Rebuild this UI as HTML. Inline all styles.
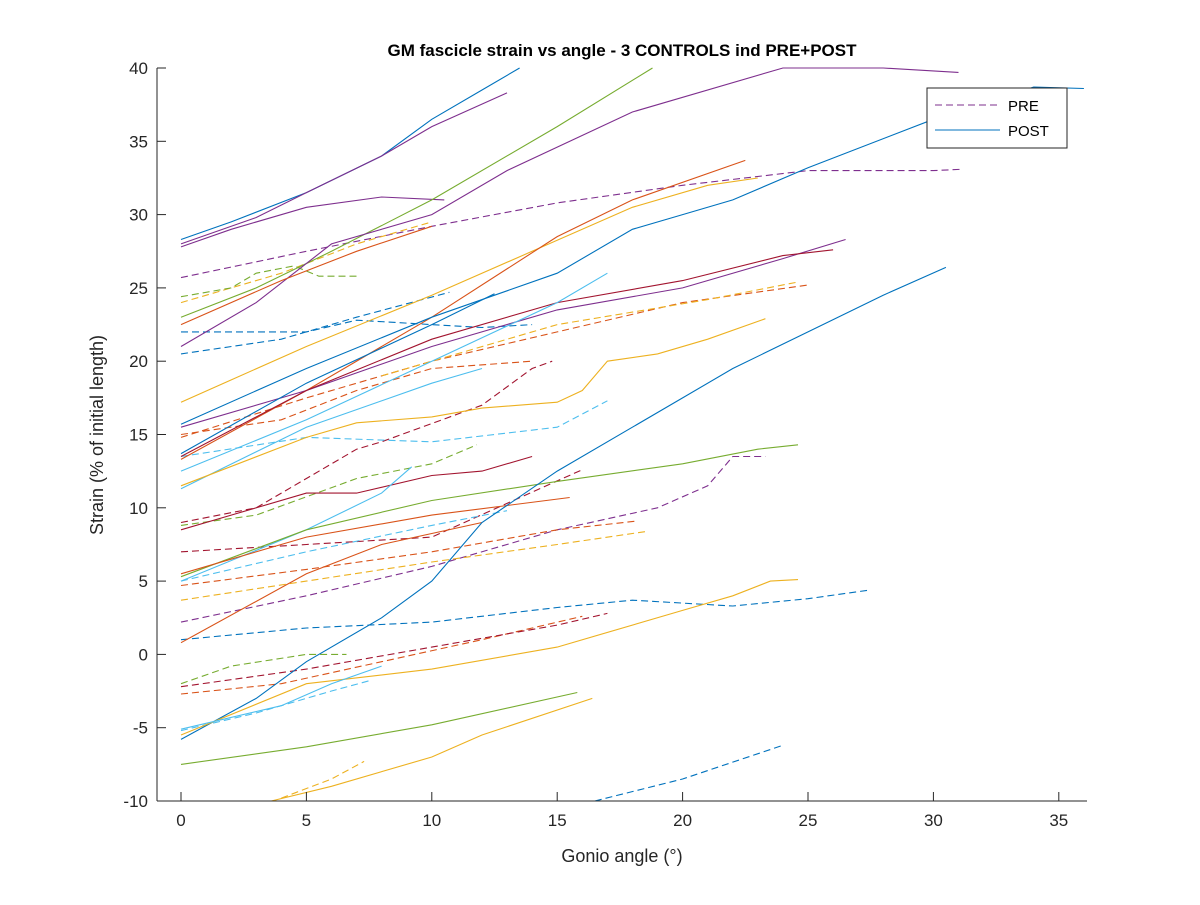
<!DOCTYPE html>
<html><head><meta charset="utf-8"><style>
body{margin:0;background:#fff;font-family:"Liberation Sans",sans-serif}
svg text{font-family:"Liberation Sans",sans-serif}
</style></head><body>
<svg id="chart" width="1200" height="900" xmlns="http://www.w3.org/2000/svg">
<rect width="1200" height="900" fill="#fff"/>
<text x="622" y="56" text-anchor="middle" font-size="17" font-weight="bold">GM fascicle strain vs angle - 3 CONTROLS ind PRE+POST</text>
<g id="series"></g>
<rect x="157" y="68" width="930" height="733" fill="none" stroke="none"/>
<line x1="157" y1="801" x2="1087" y2="801" stroke="#262626"/>
<line x1="157" y1="68" x2="157" y2="801" stroke="#262626"/>
<g id="ticks"></g>
<text x="622" y="862" text-anchor="middle" font-size="18" fill="#262626">Gonio angle (°)</text>
<text transform="translate(103,435) rotate(-90)" text-anchor="middle" font-size="18" fill="#262626">Strain (% of initial length)</text>
<g>
<rect x="927" y="88" width="140" height="60" fill="#fff" stroke="#262626" stroke-width="1"/>
<line x1="935" y1="105" x2="1000" y2="105" stroke="#7E2F8E" stroke-dasharray="7,4"/>
<text x="1008" y="111" font-size="15">PRE</text>
<line x1="935" y1="130" x2="1000" y2="130" stroke="#0072BD"/>
<text x="1008" y="136" font-size="15">POST</text>
</g>
</svg>
<script>
const xTicks=[0,5,10,15,20,25,30,35];
const yTicks=[-10,-5,0,5,10,15,20,25,30,35,40];
const C={b:"#0072BD",o:"#D95319",y:"#EDB120",p:"#7E2F8E",g:"#77AC30",l:"#4DBEEE",r:"#A2142F"};
const postColors=["b","p","p","g","p","o","y","o","b","p","r","b","l","l","y","r","l","g","o","o","b","y","g","y","l"];
const postData=[
[[0,28.3],[2,29.5],[5,31.5],[8,34],[10,36.5],[12,38.5],[13.5,40]],
[[0,28],[3,29.8],[5,31.5],[8,34],[10,36],[13,38.3]],
[[0,27.8],[2,29],[5,30.5],[8,31.2],[10.5,31]],
[[0,23],[3,25],[6,27.5],[10,31],[15,36],[18.8,40]],
[[0,21],[3,24],[6,28],[10,30],[13,33],[18,37],[24,40],[28,40],[31,39.7]],
[[0,22.5],[4,25.5],[7,27.5],[10,29.2]],
[[0,17.2],[5,21],[10,24.5],[14,27.5],[18,30.5],[21,32],[23,32.5]],
[[0,13.3],[5,18],[10,23],[15,28.5],[18,31],[22.5,33.7]],
[[0,15.7],[5,19.5],[10,23],[15,26],[18,29],[20,30],[22,31],[25,33.2],[30,36.5],[34,38.7],[36,38.6]],
[[0,15.5],[5,18],[10,21],[15,23.5],[20,25],[24,27],[26.5,28.3]],
[[0,13.5],[5,18],[10,21.5],[15,24],[20,25.5],[24,27.2],[26,27.6]],
[[0,13.7],[5,18.5],[10,22.5],[12.5,24.6]],
[[0,12.5],[5,16],[10,20],[15,24],[17,26]],
[[0,11.3],[5,15.5],[10,18.5],[12,19.5]],
[[0,11.5],[5,14.8],[7,15.8],[10,16.2],[12,16.8],[15,17.2],[16,18],[17,20],[19,20.5],[21,21.5],[23.3,22.9]],
[[0,8.5],[2,9.5],[5,11],[7,11],[10,12.2],[12,12.5],[14,13.5]],
[[0,5],[5,8.5],[8,11],[9.2,12.8]],
[[0,5.3],[5,8.5],[10,10.5],[15,11.8],[20,13],[23,14],[24.6,14.3]],
[[0,5.5],[5,8],[10,9.5],[15.5,10.7]],
[[0,0.8],[5,5.5],[8,7.5],[12,9]],
[[0,-5.8],[3,-3],[5,-0.5],[8,2.5],[10,5],[12,9],[15,12.5],[18,15.5],[20,17.5],[22,19.5],[25,22],[28,24.5],[30.5,26.4]],
[[0,-5.5],[5,-2],[10,-1],[15,0.5],[20,3],[22,4],[23.5,5],[24.6,5.1]],
[[0,-7.5],[5,-6.3],[10,-4.8],[15.8,-2.6]],
[[3.6,-10],[6,-9],[10,-7],[12,-5.5],[16.4,-3]],
[[0,-5.1],[4,-3.5],[6,-2],[8,-0.8]]
];
const preColors=["p","y","g","b","b","o","y","o","r","l","g","r","p","l","o","y","b","g","o","r","l","y","b"];
const preData=[
[[0,25.7],[5,27.5],[10,29.2],[15,30.8],[20,32],[25,33],[30,33],[31.2,33.1]],
[[0,24],[4,26],[7,28],[10,29.5]],
[[0,24.4],[2,25],[3,26],[4.5,26.5],[5.5,25.8],[7,25.8]],
[[0,22],[5,22],[7,22.8],[10,22.5],[12,22.3],[14,22.5]],
[[0,20.5],[4,21.5],[7,23],[10.7,24.7]],
[[0,14.8],[5,17.5],[10,20],[15,22],[20,24],[25,25.2]],
[[8,19],[15,22.5],[21,24.2],[24.6,25.4]],
[[0,15],[4,16],[7,18],[10,19.5],[14,20]],
[[0,9],[3,10],[5,12],[7,14],[8,14.5],[12,17],[14,19.5],[14.8,20]],
[[0,13.5],[5,14.8],[10,14.5],[15,15.5],[17,17.3]],
[[0,8.8],[3,9.5],[7,12],[10,13],[11.8,14.3]],
[[0,7],[5,7.5],[10,8],[16,12.6]],
[[0,2.2],[5,4],[10,6],[15,8.5],[19,10],[21,11.5],[22,13.5],[23.3,13.5]],
[[0,5],[5,7],[10,8.8],[13,9.8]],
[[0,4.7],[5,5.8],[10,7],[15,8.5],[18.2,9.1]],
[[0,3.7],[5,5],[10,6.3],[15,7.5],[18.6,8.4]],
[[0,1],[5,1.8],[10,2.2],[15,3.2],[18,3.7],[22,3.3],[25,3.8],[27.5,4.4]],
[[0,-2],[2,-0.8],[5,0],[6.6,0]],
[[0,-2.7],[4,-2],[8,-0.5],[12,1],[16,2.6]],
[[0,-2.2],[5,-1],[10,0.5],[15,2],[17,2.8]],
[[0,-5.2],[3,-4],[6,-2.5],[7.5,-1.8]],
[[4,-9.8],[6,-8.5],[7.3,-7.3]],
[[16.5,-10],[20,-8.5],[24,-6.2]]
];
const X=v=>181+v*25.08, Y=v=>801-(v+10)*14.66;
const NS="http://www.w3.org/2000/svg";
const g=document.getElementById("series");
function draw(data,cols,dash,kind){
 data.forEach((s,i)=>{
  const p=document.createElementNS(NS,"polyline");
  p.setAttribute("points",s.map(d=>X(d[0]).toFixed(1)+","+Y(d[1]).toFixed(1)).join(" "));
  p.setAttribute("fill","none");p.setAttribute("stroke",C[cols[i]]);p.setAttribute("stroke-width","1.1");
  if(dash)p.setAttribute("stroke-dasharray","7,4");
  
  
  g.appendChild(p);
 });
}
draw(preData,preColors,true,"pre");
draw(postData,postColors,false,"post");
const t=document.getElementById("ticks");
xTicks.forEach(v=>{
 const l=document.createElementNS(NS,"line");
 l.setAttribute("x1",X(v));l.setAttribute("x2",X(v));l.setAttribute("y1",801);l.setAttribute("y2",792);l.setAttribute("stroke","#262626");
 
 
 t.appendChild(l);
 const s=document.createElementNS(NS,"text");
 s.setAttribute("x",X(v));s.setAttribute("y",826);s.setAttribute("text-anchor","middle");s.setAttribute("font-size","17");s.setAttribute("fill","#262626");
 s.textContent=v;
 
 
 t.appendChild(s);
});
yTicks.forEach(v=>{
 const l=document.createElementNS(NS,"line");
 l.setAttribute("x1",157);l.setAttribute("x2",166);l.setAttribute("y1",Y(v));l.setAttribute("y2",Y(v));l.setAttribute("stroke","#262626");
 
 
 t.appendChild(l);
 const s=document.createElementNS(NS,"text");
 s.setAttribute("x",148);s.setAttribute("y",Y(v)+6);s.setAttribute("text-anchor","end");s.setAttribute("font-size","17");s.setAttribute("fill","#262626");
 s.textContent=v;
 
 
 t.appendChild(s);
});
</script>
</body></html>
